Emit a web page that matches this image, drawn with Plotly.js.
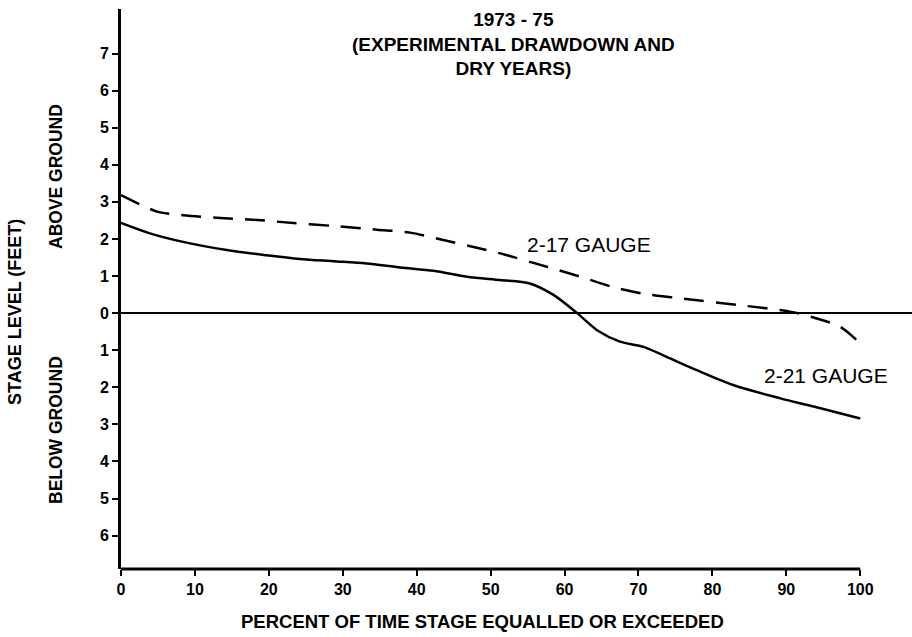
<!DOCTYPE html>
<html>
<head>
<meta charset="utf-8">
<script src="https://cdn.plot.ly/plotly-3.0.1.min.js"></script>
<style>html,body{margin:0;padding:0;background:#fff;}#chart{width:912px;height:637px;}</style>
</head>
<body>
<div id="chart"></div>
<script>
// 2-21 gauge (solid)
const g221X = [0, 3.9, 8.4, 14.3, 19.7, 24.2, 28.7, 33.2, 37.8, 42.3, 46.8, 51.3, 55.3, 58.5, 61.7, 64.4, 67.5, 70.7, 73.8, 77.9, 82.8, 89.2, 93.7, 100];
const g221Y = [2.43, 2.15, 1.92, 1.70, 1.56, 1.46, 1.40, 1.34, 1.23, 1.14, 0.98, 0.89, 0.80, 0.49, 0.0, -0.46, -0.77, -0.91, -1.18, -1.54, -1.94, -2.30, -2.52, -2.84];
// 2-17 gauge (dashed)
const g217X = [0, 5, 8.4, 12.9, 18.4, 23.3, 28.7, 34.6, 39.1, 43.6, 49.0, 51.3, 57.6, 62.0, 66.6, 70.5, 75.6, 84.7, 90.5, 93.7, 97.3, 100];
const g217Y = [3.18, 2.73, 2.64, 2.57, 2.51, 2.43, 2.35, 2.25, 2.17, 1.97, 1.72, 1.61, 1.25, 0.99, 0.70, 0.53, 0.40, 0.19, 0.04, -0.12, -0.37, -0.82];
const yTickVals = [-6, -5, -4, -3, -2, -1, 0, 1, 2, 3, 4, 5, 6, 7];
const yTickText = ['6', '5', '4', '3', '2', '1', '0', '1', '2', '3', '4', '5', '6', '7'];
const xTickVals = [0, 10, 20, 30, 40, 50, 60, 70, 80, 90, 100];

const FONT = 'Liberation Sans, Arial, sans-serif';
const traces = [
  {x: g221X, y: g221Y, mode: 'lines', line: {color: '#000', width: 2.5, shape: 'spline', smoothing: 0.8}, hoverinfo: 'skip'},
  {x: g217X, y: g217Y, mode: 'lines', line: {color: '#000', width: 2.5, shape: 'spline', smoothing: 0.8, dash: '20px,12px'}, hoverinfo: 'skip'}
];
const layout = {
  width: 912, height: 637,
  margin: {l: 121, r: 0, t: 9, b: 68},
  paper_bgcolor: '#fff', plot_bgcolor: '#fff',
  showlegend: false,
  font: {family: FONT, color: '#000'},
  xaxis: {
    range: [0, 107], showgrid: false, zeroline: false, showline: false,
    tickvals: xTickVals, ticks: 'outside', ticklen: 6, tickwidth: 2, tickcolor: '#000',
    tickfont: {family: FONT, size: 16, weight: 'bold', color: '#000'}
  },
  yaxis: {
    range: [-6.9, 8.2], showgrid: false, zeroline: true, zerolinecolor: '#000', zerolinewidth: 2,
    showline: true, linecolor: '#000', linewidth: 3,
    tickvals: yTickVals, ticktext: yTickText, ticks: 'outside', ticklen: 6, tickwidth: 2, tickcolor: '#000',
    tickfont: {family: FONT, size: 16, weight: 'bold', color: '#000'}
  },
  shapes: [
    {type: 'line', xref: 'x', yref: 'paper', x0: 0, x1: 100, y0: 0, y1: 0, line: {color: '#000', width: 3}}
  ],
  annotations: [
    {xref: 'paper', yref: 'paper', x: (513 - 121) / 791, y: 1, yshift: 2, yanchor: 'top', showarrow: false, align: 'center',
     text: '1973 - 75<br>(EXPERIMENTAL DRAWDOWN AND<br>DRY YEARS)', font: {family: FONT, size: 19, weight: 'bold'}},
    {xref: 'x', yref: 'y', x: 63.3, y: 1.86, showarrow: false, text: '2-17 GAUGE', font: {family: FONT, size: 21}},
    {xref: 'x', yref: 'y', x: 95.3, y: -1.67, showarrow: false, text: '2-21 GAUGE', font: {family: FONT, size: 21}},
    {xref: 'paper', yref: 'paper', x: (482 - 121) / 791, y: -(622 - 569) / 560, xanchor: 'center', yanchor: 'middle', showarrow: false,
     text: 'PERCENT OF TIME STAGE EQUALLED OR EXCEEDED', font: {family: FONT, size: 18.5, weight: 'bold'}},
    {xref: 'paper', yref: 'paper', x: -106 / 791, y: (569 - 312) / 560, xanchor: 'center', yanchor: 'middle', textangle: -90, showarrow: false,
     text: 'STAGE LEVEL (FEET)', font: {family: FONT, size: 18, weight: 'bold'}},
    {xref: 'paper', yref: 'paper', x: -65 / 791, y: (569 - 177) / 560, xanchor: 'center', yanchor: 'middle', textangle: -90, showarrow: false,
     text: 'ABOVE GROUND', font: {family: FONT, size: 17.5, weight: 'bold'}},
    {xref: 'paper', yref: 'paper', x: -65 / 791, y: (569 - 430) / 560, xanchor: 'center', yanchor: 'middle', textangle: -90, showarrow: false,
     text: 'BELOW GROUND', font: {family: FONT, size: 17.5, weight: 'bold'}}
  ]
};
Plotly.newPlot('chart', traces, layout, {staticPlot: true, displayModeBar: false});
</script>
</body>
</html>
